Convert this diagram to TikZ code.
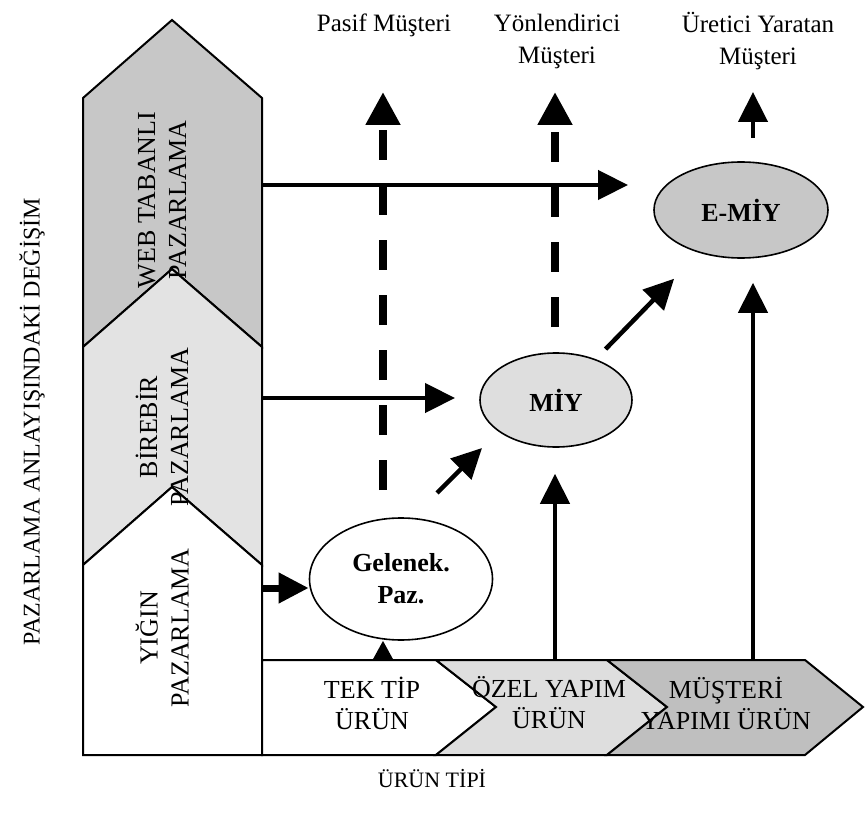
\documentclass[tikz,border=0pt]{standalone}
\usepackage{fontspec}
\setmainfont{Liberation Serif}
\usetikzlibrary{calc, positioning, arrows.meta, shapes.geometric}

\tikzset{
    arr/.style={line width=4.5pt, -{Triangle[length=30pt,width=29pt]}},
    smallarr/.style={line width=3pt, -{Triangle[length=20pt,width=21pt]}},
    dasharr/.style={line width=8pt, dash pattern=on 30pt off 25pt, -{Triangle[length=33pt,width=33pt]}},
    ell/.style={ellipse, draw, line width=1.6pt, inner sep=0pt},
    outl/.style={draw, line width=2pt, line join=miter},
    lbl/.style={font=\fontsize{25}{32}\selectfont, align=center},
    caps/.style={font=\fontsize{26}{31}\selectfont, align=center},
    bold/.style={font=\fontsize{26}{32}\selectfont\bfseries, align=center},
}

\begin{document}
\begin{tikzpicture}[x=1pt, y=-1pt]
    \useasboundingbox (0,0) rectangle (865,821);

    % Shapes (left column)
    \path[outl, fill=black!22] (83,98) -- (172,20) -- (262,98) -- (262,347) -- (172,269) -- (83,347) -- cycle;
    \path[outl, fill=black!11] (83,347) -- (172,269) -- (262,347) -- (262,565) -- (172,487) -- (83,565) -- cycle;
    \path[outl, fill=white] (83,565) -- (172,487) -- (262,565) -- (262,755) -- (83,755) -- cycle;

    % Shapes (bottom row)
    \path[outl, fill=white] (262,660) -- (436,660) -- (496,707) -- (436,755) -- (262,755) -- cycle;
    \path[outl, fill=black!13] (436,660) -- (607,660) -- (667,707) -- (607,755) -- (436,755) -- (496,707) -- cycle;
    \path[outl, fill=black!25] (607,660) -- (805,660) -- (863,707) -- (805,755) -- (607,755) -- (667,707) -- cycle;

    % Nodes
    \node[caps, rotate=90] (web) at (162,200) {WEB TABANLI\\PAZARLAMA};
    \node[caps, rotate=90] (birebir) at (162,427) {BİREBİR\\PAZARLAMA};
    \node[caps, rotate=90] (yigin) at (162,628) {YIĞIN\\PAZARLAMA};

    \node[caps] (tektip) at (372,703) {TEK TİP\\ÜRÜN};
    \node[caps] (ozel) at (549,703) {ÖZEL YAPIM\\ÜRÜN};
    \node[caps] (musteri) at (726,703) {MÜŞTERİ\\YAPIMI ÜRÜN};

    \node[ell, fill=white, minimum width=183pt, minimum height=122pt, bold] (gelenek) at (401,579) {Gelenek.\\Paz.};
    \node[ell, fill=black!13, minimum width=152pt, minimum height=94pt, bold] (miy) at (556,400) {MİY};
    \node[ell, fill=black!22, minimum width=174pt, minimum height=96pt, bold] (emiy) at (741,210) {E-MİY};

    \node[lbl] (pasif) at (384,25) {Pasif Müşteri};
    \node[lbl] (yonl) at (557,41) {Yönlendirici\\Müşteri};
    \node[lbl] (uret) at (758,41) {Üretici Yaratan\\Müşteri};

    \node[font=\fontsize{24}{28}\selectfont, rotate=90] (yaxis) at (32,422) {PAZARLAMA ANLAYIŞINDAKİ DEĞİŞİM};
    \node[font=\fontsize{22}{26}\selectfont] (xaxis) at (432,779) {ÜRÜN TİPİ};

    % Free ends
    \coordinate (webR) at (262,185);
    \coordinate (webT) at (628,185);
    \coordinate (birR) at (262,398);
    \coordinate (birT) at (455,398);
    \coordinate (yigR) at (262,588);
    \coordinate (gelB) at (437,493);
    \coordinate (gelT) at (482,448);
    \coordinate (tekB) at (383,660);
    \coordinate (ozelB) at (555,660);
    \coordinate (musB) at (753,660);
    \coordinate (uretB) at (753,138);
    \coordinate (uretT) at (753,92);
    \coordinate (pasifB) at (383,490);
    \coordinate (pasifT) at (383,92);
    \coordinate (yonlB) at (555,327);
    \coordinate (yonlT) at (555,92);

    % Paths
    \draw[arr] (webR) -- (webT);
    \draw[arr] (birR) -- (birT);
    \draw[arr, line width=7pt] (yigR) -- (gelenek.west |- yigR);
    \draw[arr] (gelB) -- (gelT);
    \draw[arr, shorten <=14pt, shorten >=36pt] (miy) -- (emiy);
    \draw[smallarr] (tekB) -- (tekB |- gelenek.south);
    \draw[arr, shorten >=26pt] (ozelB) -- (ozelB |- miy.south);
    \draw[arr, shorten >=24pt] (musB) -- (musB |- emiy.south);
    \draw[arr] (uretB) -- (uretT);
    \draw[dasharr] (pasifB) -- (pasifT);
    \draw[dasharr] (yonlB) -- (yonlT);
\end{tikzpicture}
\end{document}
